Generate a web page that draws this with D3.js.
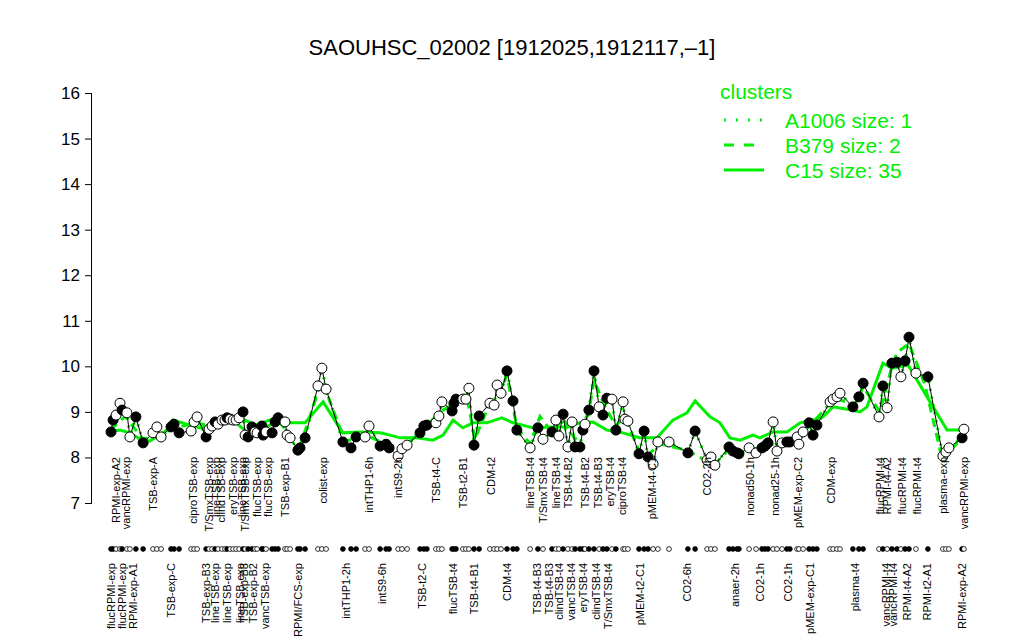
<!DOCTYPE html>
<html><head><meta charset="utf-8">
<script src="https://cdn.jsdelivr.net/npm/d3@7"></script>
<style>
body{margin:0;background:#fff;}
svg{font-family:"Liberation Sans",Arial,Helvetica,sans-serif;}
</style></head>
<body><svg id="c" width="1024" height="640"></svg>
<script>
// ---- data (x = condition position, y = log2 expression) ----
const pointPos = [1,1.7,2.7,4,4.7,6.3,7.3,9.3,11.7,15,16.3,17.7,21,22,23.7,27.7,28.7,29.7,32.7,33.7,34.7,35.7,36.7,38,39,39.7,40.7,41.7,42.7,43.7,45,45.7,46.7,48,49,49.7,51.3,51.7,52.7,54.7,55.7,56.7,59,59.7,60.7,63.3,64,65.7,70,71.3,72.7,78.3,81,82.7,85.7,87,90.7,92.7,93.7,96.7,98,99.7,104,105.3,106.3,109.3,110.3,111.3,114.7,115.3,116,118.3,119.3,120.3,122,123.7,127.3,128.7,129.7,131,133,135,136.3,140.7,143.3,145,148,149.3,150.3,151.7,153.3,154.7,155.7,157.3,158.3,159,160.3,162,163.7,165,166.3,168,169.3,171.7,172.3,173.3,177,178.7,180,181.7,183.3,187,193.3,195.7,199.7,201,202.3,207,208.3,209.7,210.3,213.7,216,218,219,220,221.7,223,224.7,226.3,227.3,229.7,230.3,231.7,233.7,235,236.3,240.7,241.7,243,244,248.3,250.3,251.7,257,258.3,259.7,261.3,263,264.3,265.7,267,269.3,273.3,278.3,279.3,280.3,284.7,285.3];
const pointVal = [8.56,8.82,8.93,9.19,9.04,8.98,8.45,8.89,8.32,8.54,8.67,8.45,8.67,8.73,8.54,8.58,8.78,8.89,8.45,8.62,8.69,8.78,8.73,8.82,8.82,8.87,8.84,8.82,8.82,8.87,9.0,8.49,8.45,8.67,8.56,8.54,8.69,8.49,8.56,8.54,8.78,8.87,8.78,8.49,8.43,8.16,8.21,8.43,9.57,9.96,9.5,8.34,8.21,8.45,8.45,8.69,8.25,8.29,8.21,8.03,8.19,8.27,8.54,8.69,8.71,8.76,8.91,9.22,9.02,9.19,9.28,9.28,9.28,9.52,8.27,8.91,9.19,9.15,9.59,9.41,9.9,9.24,8.6,8.21,8.65,8.4,8.56,8.82,8.47,8.95,8.23,8.78,8.23,8.23,8.6,8.73,9.04,9.9,9.11,8.93,9.3,9.28,8.6,9.22,8.84,8.8,8.08,8.58,8.01,7.86,8.34,8.34,8.1,8.58,7.94,8.01,7.83,8.23,8.14,8.1,8.08,8.21,8.1,8.21,8.25,8.32,8.78,8.14,8.32,8.34,8.34,8.45,8.29,8.56,8.76,8.49,8.71,9.22,9.28,9.33,9.41,9.11,9.33,9.63,8.89,9.57,9.09,10.07,10.09,9.77,10.12,10.64,9.85,9.77,8.03,8.12,8.21,8.43,8.62];
const pointFilled = [1,1,0,0,1,0,0,1,1,0,0,0,1,1,1,0,0,0,1,0,0,1,0,0,0,1,0,0,0,0,1,0,1,1,0,0,1,1,0,1,1,1,0,0,0,1,1,1,0,0,0,1,1,1,0,0,1,1,1,0,0,0,1,1,1,0,0,0,1,1,1,0,0,0,1,1,0,0,0,0,1,1,1,0,1,0,1,0,0,1,0,0,1,1,1,0,1,1,0,1,1,0,1,0,0,0,1,1,1,0,0,0,1,1,0,0,0,1,1,1,1,0,0,1,1,1,0,0,0,1,1,0,0,0,1,1,1,0,0,0,0,1,1,1,0,1,0,1,1,0,1,1,0,1,0,0,0,1,0];

const c15Pos = [0.7,4,7.3,11.7,14,19.7,21.7,27.3,30.7,34,37.3,42.3,45.7,49,52.3,55.7,60.7,65.7,71.7,78.3,84,90.7,94,97.3,103,108.3,111.7,115,118.3,121.7,126.3,131.3,135,141.7,149.7,153,157.3,161.7,166.3,171.7,177.3,183,188.3,193,195.7,200.7,204,207.3,210.7,215,217.3,221.7,226.3,230.7,235,238.3,241.7,246.3,250.7,253,258.3,261.3,266.7,275,279.7,285];
const c15Val = [8.56,8.6,8.54,8.36,8.36,8.6,8.82,8.71,8.65,8.71,8.82,8.82,8.82,8.71,8.78,8.87,8.76,8.76,9.22,8.54,8.56,8.54,8.49,8.43,8.43,8.38,8.49,8.82,8.65,8.76,8.76,8.87,8.76,8.65,8.67,8.67,8.76,8.78,8.6,8.54,8.43,8.43,8.82,8.98,9.24,8.89,8.76,8.43,8.38,8.49,8.43,8.56,8.56,8.76,8.82,8.89,9.11,9.06,9.0,9.11,10.07,9.96,10.03,9.11,8.6,8.6];

const b379Pos = [0.7,5.7,11.7,17.3,22.3,29,34,40.7,45.7,50.7,56.7,60.7,64,71.3,79,85.7,92.3,97.3,104.7,110.7,115.7,119.7,122.3,127.3,130.7,133,136.3,140.7,144,148,151.7,155.7,160.3,162,165.7,169.3,172.3,177.3,180,184,193.3,197.3,202.3,207.3,210.7,219,227.3,234,242.3,249,251.7,257.3,261.3,263,267,272.3,278.3,280.7,285];
const b379Val = [8.6,8.9,8.4,8.5,8.65,8.75,8.7,8.85,8.6,8.6,8.8,8.5,8.25,9.7,8.35,8.5,8.3,8.15,8.6,9.0,9.2,9.3,8.4,9.2,9.45,9.8,8.65,8.3,8.9,8.55,8.85,8.4,9.0,9.7,9.1,8.7,8.9,8.1,8.05,8.3,8.15,8.0,7.85,8.2,8.1,8.25,8.35,8.7,9.3,9.15,9.55,9.0,10.0,10.3,10.5,9.6,7.9,8.15,8.45];

const topLabels = ["RPMI-exp-A2","vancRPMI-exp","TSB-exp-A","ciproTSB-exp","T/SmxTSB-exp","lineTSB-exp","clindTSB-exp","eryTSB-exp","lineTSB-exp","T/SmxTSB-exp","flucTSB-exp","flucTSB-exp","TSB-exp-B1","colist-exp","intTHP1-6h","intS9-2h","TSB-t4-C","TSB-t2-B1","CDM-t2","lineTSB-t4","T/SmxTSB-t4","lineTSB-t4","TSB-t4-B2","TSB-t4-B2","TSB-t4-B3","eryTSB-t4","ciproTSB-t4","pMEM-t4-C1","CO2-2h","nonad50-1h","nonad25-1h","pMEM-exp-C2","CDM-exp","flucRPMI-t4","RPMI-t4-A2","flucRPMI-t4","flucRPMI-t4","plasma-exp","vancRPMI-exp"];
const topLabelPos = [2.7,6,15,28.3,33.7,36,37.7,41.7,44.7,45.7,49.7,53.3,59,71.7,87,96.7,109.3,118.3,127.7,140.7,145,149.3,153.3,159,163.3,167.3,171.3,181.3,199.7,214,222.3,230,241,257.3,259.7,264.7,269.7,278.3,285.3];
const bottomLabels = ["flucRPMI-exp","flucRPMI-exp","RPMI-exp-A1","TSB-exp-C","TSB-exp-B3","lineTSB-exp","lineTSB-exp","lineTSB-exp","TSB-exp-B3","TSB-exp-B2","vancTSB-exp","RPMI/FCS-exp","intTHP1-2h","intS9-6h","TSB-t2-C","flucTSB-t4","TSB-t4-B1","CDM-t4","TSB-t4-B3","TSB-t4-B3","clindTSB-t4","vancTSB-t4","eryTSB-t4","clindTSB-t4","T/SmxTSB-t4","pMEM-t2-C1","CO2-6h","anaer-2h","CO2-1h","CO2-1h","pMEM-exp-C1","plasma-t4","vancRPMI-t4","vancRPMI-t4","RPMI-t4-A2","RPMI-t2-A1","RPMI-exp-A2"];
const bottomLabelPos = [1,4.7,8.3,21,32.7,35.7,39.7,44,45.3,48.3,52.3,63.3,79.3,91.3,104.7,115,122,133,143,147,150.3,154.3,158.3,162.7,166.7,177.3,193,209,217.3,226.7,234,249,259.3,261.7,266.3,273,284.7];

const yTicks = [7,8,9,10,11,12,13,14,15,16];
const title = "SAOUHSC_02002 [1912025,1912117,\u20131]";
const legendTitle = "clusters";
const legendNames = ["A1006 size: 1","B379 size: 2","C15 size: 35"];

// ---- drawing ----
const GREEN = "#00ee00";
const svg = d3.select("#c");
const x = d3.scaleLinear().domain([0,300]).range([108,1008]);
const y = d3.scaleLinear().domain([7,16]).range([503,93]);

svg.append("text").attr("x",512).attr("y",55).attr("text-anchor","middle")
  .attr("font-size",22).text(title);

const ax = svg.append("g").attr("transform","translate(92,0)")
  .call(d3.axisLeft(y).tickValues(yTicks).tickSize(7).tickPadding(5).tickFormat(d3.format("d")));
ax.select(".domain").attr("stroke","#000").attr("d","M-0.5,"+y(7)+"V"+y(16));
ax.selectAll("text").attr("font-size",17).attr("font-family","Liberation Sans, Arial, sans-serif");

const pts = pointPos.map((p,i)=>({p, v:pointVal[i], f:pointFilled[i]}));
const line = d3.line().x(d=>x(d.p)).y(d=>y(d.v));

// cluster lines
svg.append("path").datum(c15Pos.map((p,i)=>({p,v:c15Val[i]})))
  .attr("d",line).attr("fill","none").attr("stroke",GREEN).attr("stroke-width",3);
svg.append("path").datum(b379Pos.map((p,i)=>({p,v:b379Val[i]})))
  .attr("d",line).attr("fill","none").attr("stroke",GREEN).attr("stroke-width",3).attr("stroke-dasharray","9,6");
svg.append("path").datum(pts)
  .attr("d",line).attr("fill","none").attr("stroke",GREEN).attr("stroke-width",3).attr("stroke-dasharray","2,6");

// gene profile
svg.append("path").datum(pts).attr("d",line).attr("fill","none").attr("stroke","#000").attr("stroke-width",1);
svg.append("g").selectAll("circle").data(pts).join("circle")
  .attr("cx",d=>x(d.p)).attr("cy",d=>y(d.v)).attr("r",5)
  .attr("fill",d=>d.f?"#000":"#fff").attr("stroke","#000").attr("stroke-width",1);

// rug
svg.append("g").selectAll("circle").data(pts).join("circle")
  .attr("cx",d=>x(d.p)).attr("cy",549).attr("r",2.4)
  .attr("fill",d=>d.f?"#000":"#fff").attr("stroke","#000").attr("stroke-width",0.8);

// labels
svg.append("g").selectAll("text").data(topLabels).join("text")
  .attr("transform",(d,i)=>`translate(${x(topLabelPos[i])+4},457) rotate(-90)`)
  .attr("text-anchor","end").attr("font-size",11).text(d=>d);
svg.append("g").selectAll("text").data(bottomLabels).join("text")
  .attr("transform",(d,i)=>`translate(${x(bottomLabelPos[i])+4},563) rotate(-90)`)
  .attr("text-anchor","end").attr("font-size",11).text(d=>d);

// legend
const lg = svg.append("g");
lg.append("text").attr("x",720).attr("y",99).attr("fill",GREEN).attr("font-size",21).text(legendTitle);
const dashes = ["2,10","10,10",null];
legendNames.forEach((n,i)=>{
  const yy = 120 + i*25;
  const l = lg.append("line").attr("x1",724).attr("x2",764).attr("y1",yy).attr("y2",yy)
    .attr("stroke",GREEN).attr("stroke-width",3);
  if(dashes[i]) l.attr("stroke-dasharray",dashes[i]);
  lg.append("text").attr("x",785).attr("y",yy+7.5).attr("fill",GREEN).attr("font-size",21).text(n);
});
</script></body></html>
